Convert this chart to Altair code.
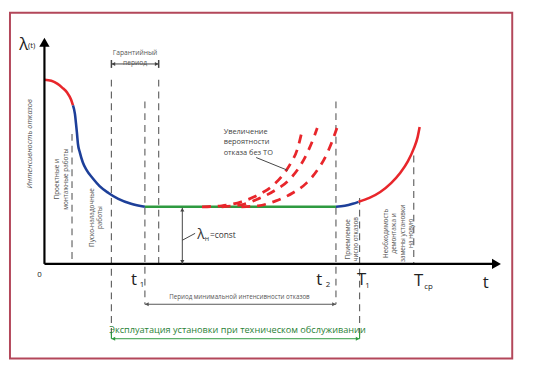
import altair as alt
import pandas as pd

# ---------------- data (t = time units, lam = failure rate units) ----------------
# main λ(t) bathtub curve, split by phase
early_red_t = [0, 7, 13, 18, 23, 27, 29]
early_red_l = [187, 186, 183, 179, 174, 167, 161]
early_blue_t = [29, 31, 32, 33, 34, 36, 39, 43, 49, 56, 65, 75, 88, 102]
early_blue_l = [161, 152, 143, 133, 122, 113, 103, 95, 87, 79, 72, 66, 61, 58]
normal_t = [102, 296]
normal_l = [58, 58]
wear_blue_t = [296, 305, 313, 319]
wear_blue_l = [58, 59, 61, 63]
wear_red_t = [319, 330, 341, 352, 361, 369, 375, 379, 381]
wear_red_l = [63, 67, 73, 82, 92, 104, 117, 129, 139]

# growth of failure rate without maintenance (dashed)
noTO_a_t = [160, 180, 200, 217, 230, 241, 250, 257, 262]
noTO_a_l = [58, 59, 63, 70, 78, 89, 102, 117, 137]
noTO_b_t = [180, 200, 217, 233, 247, 258, 267, 273, 277]
noTO_b_l = [58, 60, 66, 74, 84, 97, 113, 127, 138]
noTO_c_t = [200, 217, 235, 252, 266, 277, 286, 292, 297]
noTO_c_l = [58, 59, 64, 72, 82, 95, 110, 124, 138]

# vertical dashed guide lines
guide_t = [28, 68, 102, 116, 296, 320, 375]
guide_top = [132, 187, 165, 187, 165, 67, 110]
guide_bot = [0, -75, -41, 0, -41, -75, 0]

# horizontal interval arrows: start, end, level, colour
arrow_t1 = [68, 102, 68]
arrow_t2 = [116, 296, 320]
arrow_l = [203, -41, -76]
arrow_col = ["#444444", "#555555", "#2e9a40"]

RED, BLUE, GREEN = "#e8262b", "#1d3f99", "#2e9a40"


def xe(f="t"):
    return alt.X(f, type="quantitative",
                 scale=alt.Scale(domain=[-37, 490], nice=False, zero=False), axis=None)


def ye(f="lam"):
    return alt.Y(f, type="quantitative",
                 scale=alt.Scale(domain=[-110, 257], nice=False, zero=False), axis=None)


def x2(f):
    return alt.X2(f)


def y2(f):
    return alt.Y2(f)


# ---------------- frame ----------------
frame = alt.Chart(pd.DataFrame({"t": [-35], "t2": [475], "lam": [255], "lam2": [-96]})).mark_rect(
    filled=False, stroke="#b3475a", strokeWidth=2
).encode(x=xe(), x2=x2("t2"), y=ye(), y2=y2("lam2"))

# ---------------- guides ----------------
guides = alt.Chart(pd.DataFrame({"t": guide_t, "lam": guide_top, "lam2": guide_bot})).mark_rule(
    color="#666666", strokeWidth=1.2, strokeDash=[7, 5]
).encode(x=xe(), y=ye(), y2=y2("lam2"))

# ---------------- main curve ----------------
rows = []
for seg, (ts, ls, col) in enumerate([
    (early_red_t, early_red_l, RED),
    (early_blue_t, early_blue_l, BLUE),
    (normal_t, normal_l, GREEN),
    (wear_blue_t, wear_blue_l, BLUE),
    (wear_red_t, wear_red_l, RED),
]):
    for i, (t, l) in enumerate(zip(ts, ls)):
        rows.append({"t": t, "lam": l, "seg": seg, "i": i, "col": col})
curve = alt.Chart(pd.DataFrame(rows)).mark_line(strokeWidth=2.6, interpolate="monotone").encode(
    x=xe(), y=ye(), detail="seg:N", order="i:Q", color=alt.Color("col:N", scale=None)
)

drows = []
for seg, (ts, ls) in enumerate([(noTO_a_t, noTO_a_l), (noTO_b_t, noTO_b_l), (noTO_c_t, noTO_c_l)]):
    for i, (t, l) in enumerate(zip(ts, ls)):
        drows.append({"t": t, "lam": l, "seg": seg, "i": i})
dashed = alt.Chart(pd.DataFrame(drows)).mark_line(
    strokeWidth=2.8, color=RED, strokeDash=[9, 7], interpolate="monotone"
).encode(x=xe(), y=ye(), detail="seg:N", order="i:Q")

# ---------------- axes ----------------
axes = alt.Chart(pd.DataFrame({"t": [0, 0], "lam": [0, 0], "t2": [0, 460], "lam2": [226, 0]})).mark_rule(
    color="black", strokeWidth=2.2
).encode(x=xe(), y=ye(), x2=x2("t2"), y2=y2("lam2"))

axis_heads = alt.Chart(pd.DataFrame({"t": [0, 459], "lam": [225, 0],
                                     "shp": ["triangle-up", "triangle-right"]})).mark_point(
    filled=True, color="black", opacity=1, size=110
).encode(x=xe(), y=ye(), shape=alt.Shape("shp:N", scale=None))

# ---------------- interval arrows ----------------
arr = pd.DataFrame({"t": arrow_t1, "t2": arrow_t2, "lam": arrow_l, "col": arrow_col})
arrow_lines = alt.Chart(arr).mark_rule(strokeWidth=1).encode(
    x=xe(), x2=x2("t2"), y=ye(), color=alt.Color("col:N", scale=None)
)
heads = pd.DataFrame({
    "t": [a + 2 for a in arrow_t1] + [b - 2 for b in arrow_t2] + [140, 140],
    "lam": arrow_l + arrow_l + [55, 2],
    "shp": ["triangle-left"] * 3 + ["triangle-right"] * 3 + ["triangle-up", "triangle-down"],
    "col": arrow_col + arrow_col + ["#444444", "#444444"],
})
arrow_heads = alt.Chart(heads).mark_point(filled=True, opacity=1, size=18).encode(
    x=xe(), y=ye(), shape=alt.Shape("shp:N", scale=None), color=alt.Color("col:N", scale=None)
)
end_ticks = alt.Chart(pd.DataFrame({"t": [68, 116], "lam": [207, 207], "lam2": [199, 199]})).mark_rule(
    color="#444444", strokeWidth=1.5).encode(x=xe(), y=ye(), y2=y2("lam2"))
green_hook = alt.Chart(pd.DataFrame({"t": [68, 320], "lam": [-69, -69], "lam2": [-76, -76]})).mark_rule(
    color=GREEN, strokeWidth=1.2).encode(x=xe(), y=ye(), y2=y2("lam2"))
vert_arrow = alt.Chart(pd.DataFrame({"t": [140], "lam": [57], "lam2": [0]})).mark_rule(
    color="#444444", strokeWidth=1).encode(x=xe(), y=ye(), y2=y2("lam2"))

# leader lines
leader = alt.Chart(pd.DataFrame({"t": [140, 215], "t2": [153, 247], "lam": [24, 108], "lam2": [31, 95]})).mark_rule(
    color="#444444", strokeWidth=1).encode(x=xe(), x2=x2("t2"), y=ye(), y2=y2("lam2"))

# ---------------- texts ----------------
FONT = "Open Sans"


def txt(df, **kw):
    base = dict(font=FONT)
    base.update(kw)
    return alt.Chart(pd.DataFrame(df)).mark_text(**base).encode(x=xe(), y=ye(), text="s:N")


rot_texts = txt({
    "t": [13, 48, 308, 347],
    "lam": [86, 47, 25, 31],
    "s": ["Проектные и\nмонтажные работы", "Пуско-наладочные\nработы",
          "Приемлемое\nчисло отказов", "Необходимость\nдемонтажа и\nзамены установки\nна новую"],
}, angle=270, fontSize=6.5, lineBreak="\n", lineHeight=8.5, color="#555555", align="center", baseline="middle")

ylabel = txt({"t": [-15], "lam": [122], "s": ["Интенсивность отказов"]},
             angle=270, fontSize=7.5, fontStyle="italic", color="#555555", align="center", baseline="middle")

warranty = txt({"t": [92], "lam": [214], "s": ["Гарантийный\nпериод"]},
               fontSize=6.8, lineBreak="\n", lineHeight=10, color="#555555", align="center", baseline="middle")

noTO = txt({"t": [182], "lam": [138], "s": ["Увеличение\nвероятности\nотказа без ТО"]},
           fontSize=7.5, lineBreak="\n", lineHeight=10.5, color="#444444", align="left", baseline="top")

period = txt({"t": [198], "lam": [-34], "s": ["Период минимальной интенсивности отказов"]},
             fontSize=6.3, color="#555555", align="center", baseline="middle")

operation = txt({"t": [196], "lam": [-67], "s": ["Эксплуатация установки при техническом обслуживании"]},
                fontSize=9.3, color="#2a7f36", align="center", baseline="middle")

big_labels = txt({"t": [-21, 91, 279, 322, 380, 448], "lam": [222, -16, -16, -16, -17, -19],
                  "s": ["λ", "t", "t", "T", "T", "t"]},
                 fontSize=17, color="#222222", align="center", baseline="middle")
small_labels = txt({"t": [-13, 99, 288, 328, 390, -5], "lam": [221, -21, -21, -22, -23, -11],
                    "s": ["(t)", "1", "2", "1", "ср", "0"]},
                   fontSize=8, color="#222222", align="center", baseline="middle")

lam_const = txt({"t": [159], "lam": [29], "s": ["λ"]}, fontSize=14, color="#333333", align="center", baseline="middle")
lam_sub = txt({"t": [165], "lam": [25], "s": ["н"]}, fontSize=7, color="#333333", align="center", baseline="middle")
lam_rest = txt({"t": [168], "lam": [29], "s": ["=const"]}, fontSize=8.5, color="#333333", align="left", baseline="middle")

chart = alt.layer(
    frame, guides, curve, dashed, axes, axis_heads,
    arrow_lines, arrow_heads, end_ticks, green_hook, vert_arrow, leader,
    rot_texts, ylabel, warranty, noTO, period, operation,
    big_labels, small_labels, lam_const, lam_sub, lam_rest,
).properties(
    width=527, height=367, padding=0, autosize=alt.AutoSizeParams(type="none"),
    background="white",
).configure_view(stroke=None)

chart.save("out.html", embed_options={"renderer": "svg", "actions": False})
